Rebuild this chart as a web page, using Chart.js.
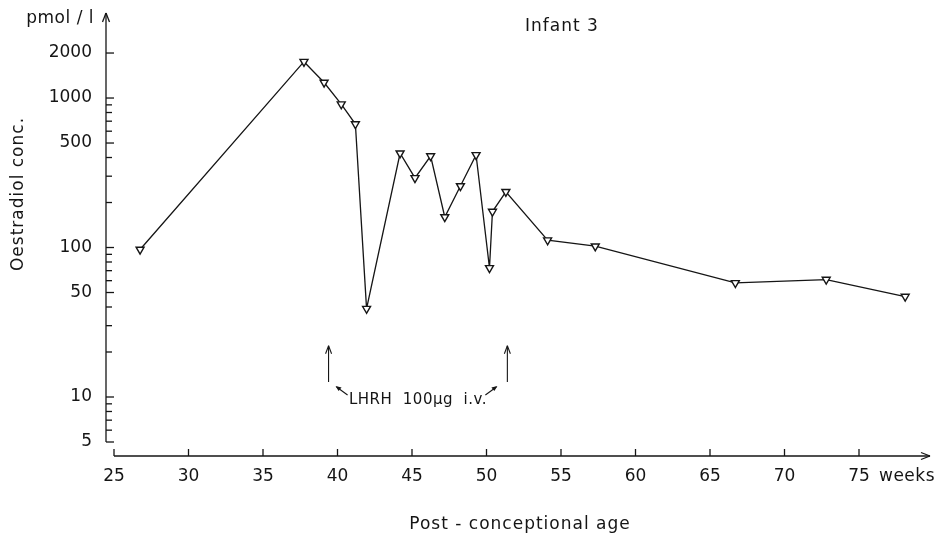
<!DOCTYPE html>
<html>
<head>
<meta charset="utf-8">
<script src="https://cdn.jsdelivr.net/npm/chart.js@4"></script>
<style>
  html,body{margin:0;padding:0;background:#fff;}
  #wrap{width:937px;height:534px;}
</style>
</head>
<body>
<div id="wrap"><canvas id="chart" width="937" height="534"></canvas></div>
<script>
// Infant 3 - oestradiol vs post-conceptional age
const weeks = [26.75, 37.75, 39.1, 40.25, 41.2, 41.95, 44.2, 45.2, 46.25, 47.2, 48.25, 49.3, 50.2, 50.4, 51.3, 54.1, 57.3, 66.7, 72.8, 78.1];
const oestradiol = [97, 1750, 1270, 910, 670, 39, 427, 292, 409, 160, 258, 416, 73, 174, 236, 112, 102, 58, 61, 47];

const xTicks = [25, 30, 35, 40, 45, 50, 55, 60, 65, 70, 75];
const yLabels = [5, 10, 50, 100, 500, 1000, 2000];
const yMinor = [6, 7, 8, 9, 20, 30, 40, 60, 70, 80, 90, 200, 300, 400, 600, 700, 800, 900];
const lhrhWeeks = [39.4, 51.4];

const INK = '#151515';
const FONT = '"DejaVu Sans", sans-serif';

function seg(ctx, x1, y1, x2, y2) {
  ctx.beginPath(); ctx.moveTo(x1, y1); ctx.lineTo(x2, y2); ctx.stroke();
}

const axesPlugin = {
  id: 'axes',
  afterDraw(chart) {
    const {ctx, chartArea: a, scales: {x, y}} = chart;
    ctx.save();
    ctx.strokeStyle = INK; ctx.fillStyle = INK; ctx.lineWidth = 1.3;

    // y axis with arrow
    const y5 = y.getPixelForValue(5);
    seg(ctx, a.left, y5, a.left, a.top);
    seg(ctx, a.left - 3.5, a.top + 9, a.left, a.top);
    seg(ctx, a.left + 3.5, a.top + 9, a.left, a.top);
    yLabels.forEach(v => { const p = y.getPixelForValue(v); seg(ctx, a.left, p, a.left + 8, p); });
    yMinor.forEach(v => { const p = y.getPixelForValue(v); seg(ctx, a.left, p, a.left + 6, p); });

    // x axis with arrow
    const x25 = x.getPixelForValue(25);
    seg(ctx, x25, a.bottom, a.right, a.bottom);
    seg(ctx, a.right - 9, a.bottom - 3.5, a.right, a.bottom);
    seg(ctx, a.right - 9, a.bottom + 3.5, a.right, a.bottom);
    xTicks.forEach(v => { const p = x.getPixelForValue(v); seg(ctx, p, a.bottom, p, a.bottom - 7); });

    // texts
    ctx.font = '17px ' + FONT;
    ctx.textBaseline = 'middle';
    ctx.letterSpacing = '0.5px';
    ctx.textAlign = 'right';
    ctx.fillText('pmol / l', 94, 19);
    ctx.textAlign = 'left';
    ctx.fillText('weeks', x.getPixelForValue(75) + 20, 477);
    ctx.textAlign = 'center';
    ctx.letterSpacing = '1px';
    ctx.fillText('Infant 3', 562, 27);
    ctx.fillText('Post - conceptional age', 520, 525);
    ctx.save();
    ctx.translate(19, 194);
    ctx.rotate(-Math.PI / 2);
    ctx.fillText('Oestradiol conc.', 0, 0);
    ctx.restore();

    // LHRH arrows
    ctx.lineWidth = 1.1;
    const [xl, xr] = lhrhWeeks.map(v => x.getPixelForValue(v));
    const yTop = y.getPixelForValue(22), yBot = y.getPixelForValue(12.6);
    [xl, xr].forEach(p => {
      seg(ctx, p, yBot, p, yTop);
      seg(ctx, p - 3, yTop + 8, p, yTop);
      seg(ctx, p + 3, yTop + 8, p, yTop);
    });
    seg(ctx, xl + 19, 395, xl + 8, 387);
    seg(ctx, xr - 22, 395, xr - 11, 387);
    ctx.beginPath(); ctx.moveTo(xl + 7, 386); ctx.lineTo(xl + 13, 387.5); ctx.lineTo(xl + 10, 391); ctx.fill();
    ctx.beginPath(); ctx.moveTo(xr - 10, 386); ctx.lineTo(xr - 16, 387.5); ctx.lineTo(xr - 13, 391); ctx.fill();
    ctx.font = '15px ' + FONT;
    ctx.letterSpacing = '0.5px';
    ctx.fillText('LHRH  100\u00b5g  i.v.', (xl + xr) / 2, 400);
    ctx.restore();
  }
};

new Chart(document.getElementById('chart'), {
  type: 'line',
  data: {
    datasets: [{
      data: weeks.map((w, i) => ({x: w, y: oestradiol[i]})),
      borderColor: INK,
      borderWidth: 1.3,
      tension: 0,
      pointStyle: 'triangle',
      rotation: 180,
      radius: 4.6,
      pointBackgroundColor: '#fff',
      pointBorderColor: INK,
      pointBorderWidth: 1.4
    }]
  },
  options: {
    responsive: false,
    animation: false,
    layout: {padding: {top: 13, right: 7, left: 0, bottom: 0}},
    plugins: {legend: {display: false}, tooltip: {enabled: false}},
    scales: {
      x: {
        type: 'linear', min: 24.463, max: 79.765,
        grid: {display: false, drawTicks: false},
        border: {display: false},
        ticks: {color: INK, font: {family: FONT, size: 17}, padding: 10, maxRotation: 0, autoSkip: false},
        afterBuildTicks: s => { s.ticks = xTicks.map(v => ({value: v})); },
        afterFit: s => { s.height = 78; s.paddingLeft = 0; s.paddingRight = 0; }
      },
      y: {
        type: 'logarithmic', min: 4.03, max: 3705,
        grid: {display: false, drawTicks: false},
        border: {display: false},
        ticks: {color: INK, font: {family: FONT, size: 17}, padding: 14, callback: v => String(v)},
        afterBuildTicks: s => { s.ticks = yLabels.map(v => ({value: v})); },
        afterFit: s => { s.width = 106; s.paddingTop = 0; s.paddingBottom = 0; }
      }
    }
  },
  plugins: [axesPlugin]
});
</script>
</body>
</html>
